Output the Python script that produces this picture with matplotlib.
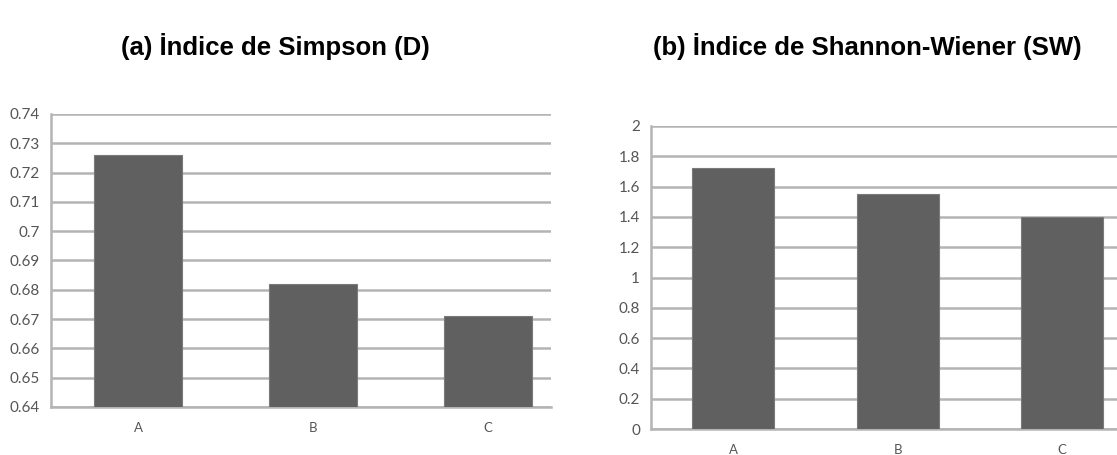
import matplotlib.pyplot as plt
import numpy as np

# 社區多樣性指數
sitios = ['A', 'B', 'C']
simpson = [0.726, 0.682, 0.671]
shannon = [1.72, 1.55, 1.40]

simpson_ticks = [0.64, 0.65, 0.66, 0.67, 0.68, 0.69, 0.70, 0.71, 0.72, 0.73, 0.74]
shannon_ticks = [0, 0.2, 0.4, 0.6, 0.8, 1.0, 1.2, 1.4, 1.6, 1.8, 2.0]

BAR_COLOR = '#606060'
GRID_COLOR = '#b4b4b4'
TEXT_COLOR = '#555555'

fig = plt.figure(figsize=(11.17, 4.55), dpi=100)
ax1 = fig.add_axes([0.0454, 0.1055, 0.4479, 0.6440])
ax2 = fig.add_axes([0.5828, 0.0571, 0.4172, 0.6660])


def fmt(v):
    return f'{v:g}'


for ax, vals, ticks, xmax in [
    (ax1, simpson, simpson_ticks, 2.359),
    (ax2, shannon, shannon_ticks, 2.333),
]:
    x = np.arange(len(sitios))
    ax.bar(x, vals, width=0.5, color=BAR_COLOR, edgecolor='#7a7a7a',
           linewidth=0.8, zorder=3)
    ax.set_xlim(-0.5, xmax)
    ax.set_ylim(ticks[0], ticks[-1])
    ax.set_yticks(ticks)
    ax.set_yticklabels([fmt(t) for t in ticks])
    ax.set_xticks(x)
    ax.set_xticklabels(sitios)
    ax.yaxis.grid(True, color=GRID_COLOR, linewidth=1.8, zorder=0)
    ax.set_axisbelow(True)
    for side in ['top', 'right']:
        ax.spines[side].set_visible(False)
    for side in ['left', 'bottom']:
        ax.spines[side].set_color(GRID_COLOR)
        ax.spines[side].set_linewidth(1.8)
    ax.tick_params(axis='y', length=0, pad=8, labelsize=11,
                   labelcolor=TEXT_COLOR)
    ax.tick_params(axis='x', length=0, pad=11, labelsize=9.5,
                   labelcolor=TEXT_COLOR)
    for lab in ax.get_xticklabels() + ax.get_yticklabels():
        lab.set_family('Lato')

fig.text(275 / 1117, 1 - 46 / 455, '(a) İndice de Simpson (D)',
         ha='center', va='center', fontsize=18.5, fontweight='bold',
         family='Liberation Sans')
fig.text(867.5 / 1117, 1 - 46 / 455, '(b) İndice de Shannon-Wiener (SW)',
         ha='center', va='center', fontsize=18.5, fontweight='bold',
         family='Liberation Sans')

fig.savefig('out.png', dpi=100)
